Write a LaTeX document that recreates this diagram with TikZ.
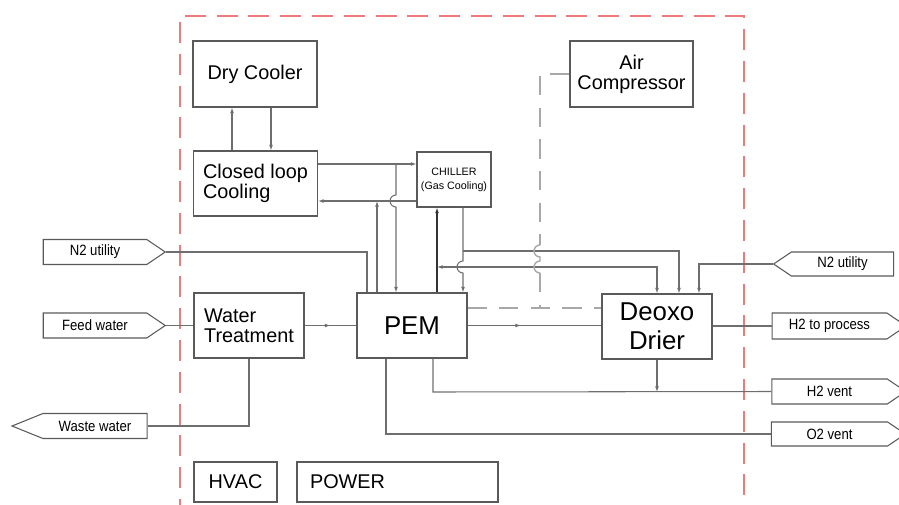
\documentclass[tikz,border=0pt]{standalone}
\usepackage{fontspec}
\setmainfont{Liberation Sans}
\newfontfamily\tagfont{Liberation Sans}[FakeStretch=0.88]
\usepackage{tikz}
\usetikzlibrary{arrows.meta,shapes.symbols,decorations.markings}
\definecolor{cframe}{HTML}{5A5A5A}
\definecolor{cwire}{HTML}{6E6E6E}
\definecolor{cfence}{HTML}{F07A7A}
\definecolor{cair}{HTML}{A8A8A8}

\begin{document}
\begin{tikzpicture}[x=0.02cm, y=-0.02cm, >={Latex[length=3.2pt,width=2.2pt]},
    box/.style={draw=cframe, line width=0.6pt, inner sep=0pt, align=center,
      font=\fontsize{11.3}{11.3}\selectfont},
    dims/.style 2 args={minimum width=#1*0.02cm, minimum height=#2*0.02cm},
    tag/.style={shape=signal, draw=cframe, line width=0.6pt, inner sep=0pt,
      signal pointer angle=68, font=\tagfont\fontsize{8.5}{8.5}\selectfont},
    wire/.style={draw=cwire, line width=0.6pt},
    darkwire/.style={draw=black!80, line width=0.7pt},
    fence/.style={draw=cfence, line width=0.6pt, dash pattern=on 11.9pt off 6.2pt},
    airdash/.style={draw=cair, line width=0.8pt, dash pattern=on 11pt off 7pt},
    midarrow/.style={postaction={decorate}, decoration={markings,
      mark=at position #1 with {\arrow{>}}}}]
  \useasboundingbox (0,0) rectangle (899,504);
  \clip (0,0) rectangle (899,504);

  % site boundary
  \draw[fence] (180,520) -- (180,16) -- (744,16) -- (744,520);

  % units
  \node[box, dims={124}{66}] (dry) at (255,74) {Dry Cooler};
  \node[box, dims={124}{65}, align=left] (closed) at (255.5,183.5) {Closed loop\\Cooling};
  \node[box, dims={74}{55}, font=\fontsize{6.1}{7.9}\selectfont] (chiller) at (454,179.5) {CHILLER\\(Gas Cooling)};
  \node[box, dims={123}{66}] (air) at (631.5,74) {Air\\Compressor};
  \node[box, dims={110}{65}, align=left] (water) at (249,325.5) {Water\\Treatment};
  \node[box, dims={110}{65}, font=\fontsize{14.7}{14.7}\selectfont] (pem) at (412,325.5) {PEM};
  \node[box, dims={110}{65}, font=\fontsize{14.7}{16.4}\selectfont] (deoxo) at (657,326.5) {Deoxo\\Drier};
  \node[box, dims={83}{40}] (hvac) at (235.5,482) {HVAC};
  \node[box, dims={201}{40}, text width=3.5cm, align=left] (power) at (397.5,482) {POWER};

  % battery limit tags
  \node[tag, dims={122}{25}] (n2l) at (95,252) {N2 utility};
  \node[tag, dims={122}{25}] (feed) at (95,325.5) {Feed water};
  \node[tag, signal to=west, signal pointer angle=44, dims={135}{25}] (waste) at (95,426) {Waste water};
  \node[tag, signal to=west, dims={120}{24}] (n2r) at (842.5,264) {N2 utility};
  \node[tag, dims={134}{26}] (h2p) at (829.5,326) {H2 to process};
  \node[tag, dims={134}{25}] (h2v) at (829.5,391.5) {H2 vent};
  \node[tag, dims={134}{24}] (o2v) at (829.5,434) {O2 vent};

  % cooling loops
  \draw[wire,->] (closed.north -| 232,0) -- (dry.south -| 232,0);
  \draw[wire,->] (dry.south -| 271,0) -- (closed.north -| 271,0);
  \draw[wire,->] (closed.east |- 0,164) -- (chiller.west |- 0,164);
  \draw[wire,->] (chiller.west |- 0,201) -- (closed.east |- 0,201);
  \draw[wire,->] (pem.north -| 377,0) -- (377,201);
  \draw[wire,->] (396,164) -- (396,195) arc[start angle=-90, end angle=-270, radius=6]
    -- (pem.north -| 396,0);
  \draw[darkwire,->] (pem.north -| 437,0) -- (chiller.south -| 437,0);
  \draw[wire,->] (chiller.south -| 463,0) -- (463,261) arc[start angle=-90, end angle=-270, radius=6]
    -- (pem.north -| 463,0);
  \draw[wire,->] (463,251) -- (679,251) -- (deoxo.north -| 679,0);
  \draw[wire,<->] (437,267) -- (657,267) -- (deoxo.north -| 657,0);

  % instrument air
  \draw[airdash] (air.west) -- (air.west -| 540,0) -- (540,245);
  \draw[cair, line width=0.8pt] (540,245) arc[start angle=-90, end angle=-270, radius=6]
    -- (540,261) arc[start angle=-90, end angle=-270, radius=6];
  \draw[airdash] (540,273) -- (540,308);
  \draw[airdash] (pem.east |- 0,308) -- (deoxo.west |- 0,308);

  % process lines
  \draw[wire] (n2l.east) -- (367,252) -- (pem.north -| 367,0);
  \draw[wire] (feed.east) -- (water.west |- feed.east);
  \draw[wire] (water.south) -- (249,426) -- (waste.east);
  \draw[wire, midarrow=0.5] (water.east) -- (pem.west);
  \draw[wire, midarrow=0.4] (pem.east) -- (pem.east -| deoxo.west);
  \draw[wire] (deoxo.east |- h2p.west) -- (h2p.west);
  \draw[wire,->] (n2r.west) -- (699,264) -- (deoxo.north -| 699,0);
  \draw[wire,->] (deoxo.south -| 657,0) -- (657,392);
  \draw[wire] (pem.south -| 433,0) -- (433,392) -- (h2v.west);
  \draw[wire] (pem.south -| 386,0) -- (386,434) -- (o2v.west);
\end{tikzpicture}
\end{document}
